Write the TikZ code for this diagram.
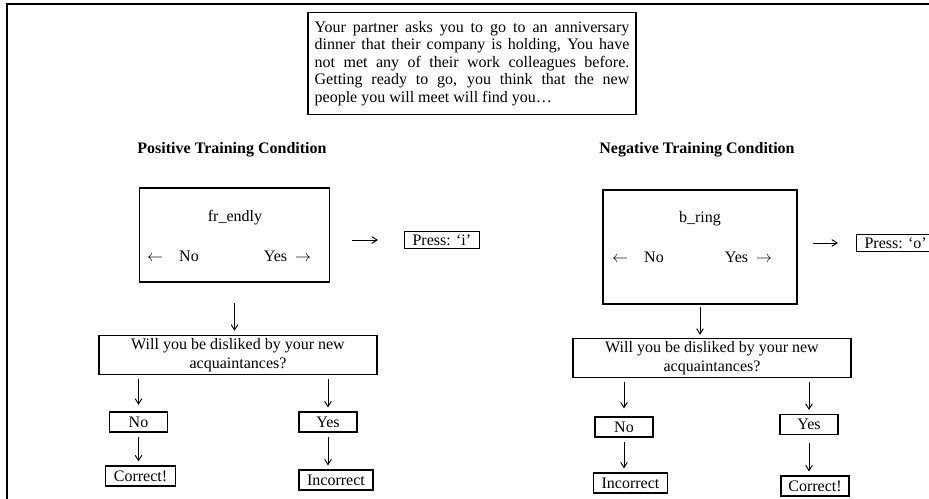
\documentclass[tikz,border=0pt,12pt]{standalone}
\usepackage{fontspec}
\setmainfont{Liberation Serif}
\usepackage{amsmath}
\usetikzlibrary{arrows.meta}
\tikzstyle{box} = [draw, line width=0.8pt, inner sep=2pt]
\tikzstyle{arrow} = [line width=0.7pt,-{Straight Barb[length=4pt,width=5pt]},shorten <=3pt,shorten >=3pt]
\tikzstyle{word} = [inner sep=0pt]
\tikzstyle{heading} = [font=\bfseries]

\begin{document}
\begin{tikzpicture}[x=0.75pt,y=-0.75pt]
\useasboundingbox (0,0) rectangle (929,499);
\draw[line width=2.2pt] (7,499) -- (7,4) -- (929,4);
\node[box, inner xsep=5pt, text width=236pt, align=justify, minimum height=77pt, font=\fontsize{12}{13.1}\selectfont] (story) at (472,63.5) {Your partner asks you to go to an anniversary\linebreak dinner that their company is holding, You have\linebreak not met any of their work colleagues before.\linebreak Getting ready to go, you think that the new\linebreak people you will meet will find you…};
\node[heading] (posT) at (232,150) {Positive Training Condition};
\node[heading] (negT) at (697,150) {Negative Training Condition};

\node[box, minimum width=143pt, minimum height=70.5pt] (wordL) at (234.5,235) {};
\node[word] (stemL) at (235,218) {fr\_endly};
\node[word] (noL) at (173,256) {$\leftarrow$\quad No};
\node[word] (yesL) at (287.5,256) {Yes\ \ $\rightarrow$};
\node[box, inner xsep=6pt, anchor=west] (pressL) at (404,240) {Press: `i'};
\node[box, minimum width=208.5pt, minimum height=28.5pt, align=center] (askL) at (238,355) {Will you be disliked by your new\\acquaintances?};
\node[box, minimum width=44pt, minimum height=15pt] (ansNoL) at (138.5,422) {No};
\node[box, minimum width=43.5pt, minimum height=15pt] (ansYesL) at (328,422) {Yes};
\node[box, minimum width=52pt, minimum height=15pt] (fbNoL) at (140.5,476) {Correct!};
\node[box, minimum width=55.5pt, minimum height=15pt] (fbYesL) at (336,480) {Incorrect};

\node[box, minimum width=145.5pt, minimum height=85.5pt] (wordR) at (700,247) {};
\node[word] (stemR) at (700,219) {b\_ring};
\node[word] (noR) at (638,257) {$\leftarrow$\quad No};
\node[word] (yesR) at (748.5,257) {Yes\ \ $\rightarrow$};
\node[box, inner xsep=6pt, anchor=west] (pressR) at (856,243) {Press: `o'};
\node[box, minimum width=208.5pt, minimum height=28.5pt, align=center] (askR) at (712,358) {Will you be disliked by your new\\acquaintances?};
\node[box, minimum width=43.5pt, minimum height=15pt] (ansNoR) at (624,427) {No};
\node[box, minimum width=43.5pt, minimum height=15pt] (ansYesR) at (809,424.5) {Yes};
\node[box, minimum width=55pt, minimum height=15pt] (fbNoR) at (630.5,483) {Incorrect};
\node[box, minimum width=51pt, minimum height=15pt] (fbYesR) at (815,486) {Correct!};

\draw[arrow, shorten <=16.5pt, shorten >=19.5pt] (pressL.west -| wordL.east) -- (pressL.west);
\draw[arrow, shorten <=15.5pt, shorten >=3pt] (wordL.south) -- (wordL.south |- askL.north);
\draw[arrow, shorten >=5pt] (ansNoL.north |- askL.south) -- (ansNoL.north);
\draw[arrow] (ansNoL.south) -- (ansNoL.south |- fbNoL.north);
\draw[arrow] (ansYesL.north |- askL.south) -- (ansYesL.north);
\draw[arrow] (ansYesL.south) -- (ansYesL.south |- fbYesL.north);

\draw[arrow, shorten <=11.25pt, shorten >=13.5pt] (pressR.west -| wordR.east) -- (pressR.west);
\draw[arrow, shorten <=1.5pt, shorten >=2.25pt] (wordR.south) -- (wordR.south |- askR.north);
\draw[arrow, shorten >=6pt] (ansNoR.north |- askR.south) -- (ansNoR.north);
\draw[arrow] (ansNoR.south) -- (ansNoR.south |- fbNoR.north);
\draw[arrow] (ansYesR.north |- askR.south) -- (ansYesR.north);
\draw[arrow, shorten <=6pt] (ansYesR.south) -- (ansYesR.south |- fbYesR.north);
\end{tikzpicture}
\end{document}
